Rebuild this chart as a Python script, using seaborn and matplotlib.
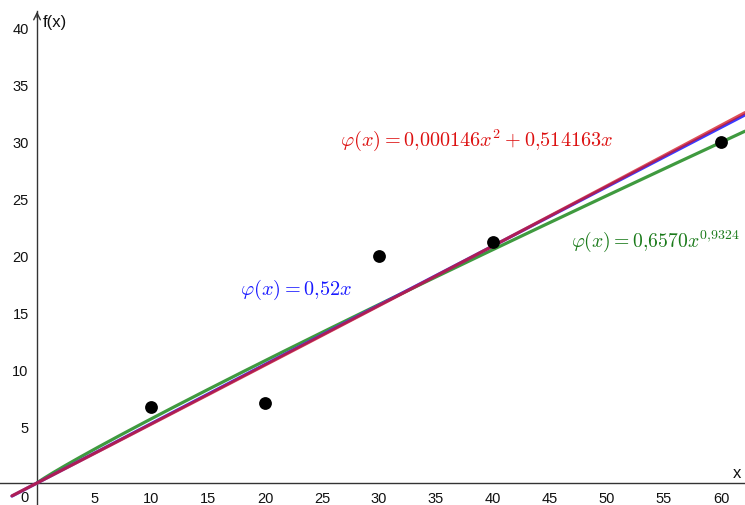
import numpy as np
import pandas as pd
import matplotlib
matplotlib.use("Agg")
import matplotlib.pyplot as plt
import seaborn as sns

# data points
x_pts = [10, 20, 30, 40, 60]
y_pts = [6.7, 7.0, 19.9, 21.1, 29.9]

# fitted models (coefficients)
lin_a = 0.52
quad_coef = [0.000146, 0.514163]
pow_coef = [0.6570, 0.9324]

x_ticks = [5, 10, 15, 20, 25, 30, 35, 40, 45, 50, 55, 60]
y_ticks = [5, 10, 15, 20, 25, 30, 35, 40]

sns.set_style("white")
plt.rcParams["font.family"] = ["Liberation Sans", "DejaVu Sans"]
plt.rcParams["mathtext.fontset"] = "cm"

fig = plt.figure(figsize=(7.45, 5.06), dpi=100)
ax = fig.add_axes([0, 0, 1, 1])
xmin, xmax = -3.25, 62.1
ymin, ymax = -1.93, 42.46
ax.set_xlim(xmin, xmax)
ax.set_ylim(ymin, ymax)

xs = np.linspace(-2.2, xmax, 300)
xs_pos = np.linspace(0, xmax, 300)
df_lin = pd.DataFrame({"x": xs, "y": lin_a * xs})
df_quad = pd.DataFrame({"x": xs, "y": quad_coef[0] * xs**2 + quad_coef[1] * xs})
df_pow = pd.DataFrame({"x": xs_pos, "y": pow_coef[0] * xs_pos ** pow_coef[1]})

sns.lineplot(data=df_pow, x="x", y="y", ax=ax, color="#3f9a3f", lw=2.3, sort=False, zorder=3)
sns.lineplot(data=df_lin, x="x", y="y", ax=ax, color="#3a3aff", lw=2.3, sort=False, zorder=4)
sns.lineplot(data=df_quad, x="x", y="y", ax=ax, color="#d4141e", lw=2.3, alpha=0.75, sort=False, zorder=5)
sns.scatterplot(x=x_pts, y=y_pts, ax=ax, color="black", s=85, edgecolor="black", linewidth=0, zorder=6)

# axes through origin
for s in ["top", "right"]:
    ax.spines[s].set_visible(False)
ax.spines["left"].set_position(("data", 0))
ax.spines["bottom"].set_position(("data", 0))
ax.spines["left"].set_color("#333333")
ax.spines["bottom"].set_color("#333333")
ax.spines["left"].set_linewidth(1.0)
ax.spines["bottom"].set_linewidth(1.0)
ax.spines["left"].set_bounds(ymin, 41.4)
ax.annotate("", xy=(0, 41.6), xytext=(0, 40.6),
            arrowprops=dict(arrowstyle="->", color="#333333", lw=1.0, mutation_scale=12))

ax.set_xticks(x_ticks)
ax.set_xticklabels([str(v) for v in x_ticks])
ax.set_yticks(y_ticks)
ax.set_yticklabels([str(v) for v in y_ticks])
ax.tick_params(axis="both", direction="out", length=4, width=1, color="#333333",
               labelsize=10.5, labelcolor="#111111", pad=2)
ax.set_xlabel("")
ax.set_ylabel("")
ax.text(-0.7, -0.6, "0", fontsize=10.5, color="#111111", ha="right", va="top")

ax.text(0.5, 40.5, "f(x)", fontsize=12, color="#111111", va="center", ha="left")
ax.text(61.4, 0.9, "x", fontsize=12, color="#111111", va="center", ha="center")

ax.text(26.6, 30.2, r"$\varphi(x) = 0{,}000146x^2 + 0{,}514163x$", fontsize=14.6,
        color="#dd1111", va="center", ha="left")
ax.text(17.8, 17.0, r"$\varphi(x) = 0{,}52x$", fontsize=14.6,
        color="#1a1aff", va="center", ha="left")
ax.text(46.8, 21.3, r"$\varphi(x) = 0{,}6570x^{0{,}9324}$", fontsize=14.2,
        color="#1a7a1a", va="center", ha="left")

fig.savefig("out.png", dpi=100)
